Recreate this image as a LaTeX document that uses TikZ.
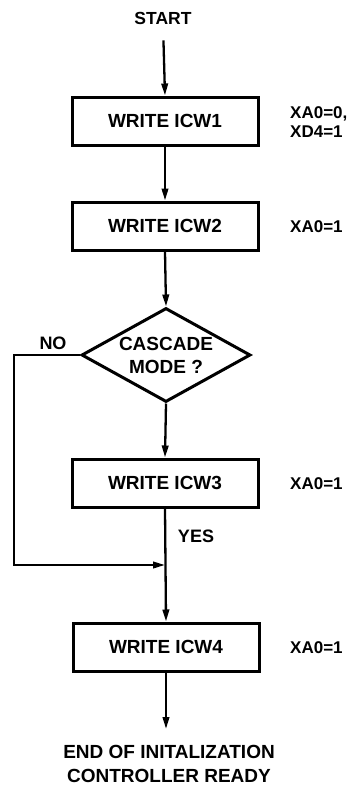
\documentclass[tikz,border=0pt]{standalone}
\usepackage{fontspec}
\setmainfont{Liberation Sans}
\usepackage{tikz}
\usetikzlibrary{shapes.geometric,arrows.meta}

\tikzset{
  stepbox/.style={rectangle,draw,line width=3pt,minimum width=186pt,minimum height=48pt,font=\fontsize{19}{22}\selectfont\bfseries},
  askbox/.style={diamond,draw,line width=3pt,aspect=1.79,minimum width=169pt,minimum height=94pt,inner sep=0pt,align=center,font=\fontsize{19}{23}\selectfont\bfseries},
  note/.style={align=left,anchor=west,inner sep=0pt,font=\fontsize{17}{19}\selectfont\bfseries},
  word/.style={align=center,inner sep=0pt,font=\fontsize{18}{24}\selectfont\bfseries},
  flow/.style={line width=2.3pt,-{Triangle[length=12pt,width=6.5pt]}}
}

\begin{document}
\begin{tikzpicture}[x=1pt,y=-1pt]
\useasboundingbox (0,0) rectangle (356,792);
\node [word,font=\fontsize{17.5}{20}\selectfont\bfseries] (start) at (163,18) {START};
\node [stepbox] (icw1) at (165,121) {WRITE ICW1};
\node [note] (xa1) at (290,122) {XA0=0,\\XD4=1};
\node [stepbox] (icw2) at (165,226) {WRITE ICW2};
\node [note] (xa2) at (290,227) {XA0=1};
\node [askbox] (cascade) at (166,355) {CASCADE\\MODE ?};
\node [word] (no) at (53,343) {NO};
\node [stepbox] (icw3) at (165,483) {WRITE ICW3};
\node [note] (xa3) at (290,484) {XA0=1};
\node [word] (yes) at (196,536) {YES};
\node [stepbox] (icw4) at (166,647) {WRITE ICW4};
\node [note] (xa4) at (290,648) {XA0=1};
\node [word,font=\fontsize{19}{24}\selectfont\bfseries] (done) at (169,764) {END OF INITALIZATION\\CONTROLLER READY};
\coordinate (join) at (165,565);
\coordinate (exit) at (166,729);
\draw [flow,shorten <=16pt] (start.south) -- (icw1.north);
\draw [flow] (icw1) -- (icw2);
\draw [flow] (icw2.south) -- (cascade.north);
\draw [flow] (cascade.south) -- (icw3.north);
\draw [flow] (icw3.south) -- (icw4.north);
\draw [flow] (cascade.west) -- (14,355) -- (14,565) -- (join);
\draw [flow] (icw4.south) -- (exit);
\end{tikzpicture}
\end{document}
